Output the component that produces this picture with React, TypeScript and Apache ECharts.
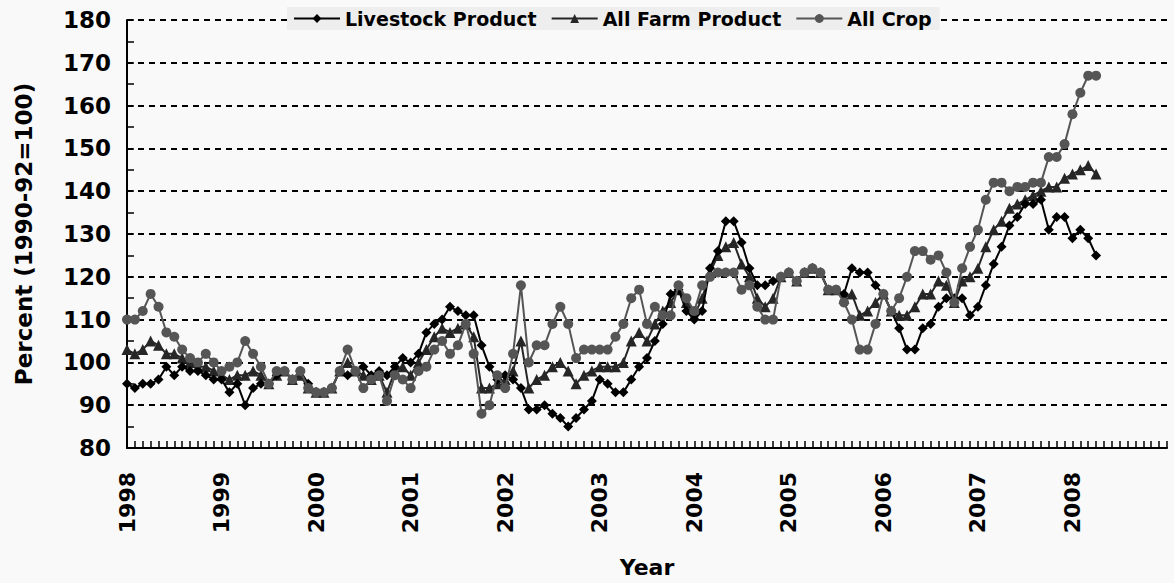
import React, { useEffect, useRef } from "react";
import * as echarts from "echarts";

const years = ["1998", "1999", "2000", "2001", "2002", "2003", "2004", "2005", "2006", "2007", "2008"];
const seriesNames = ["Livestock Product", "All Farm Product", "All Crop"];

// Monthly values, Jan 1998 .. Apr 2008
const livestock = [
  95, 94, 95, 95, 96, 99, 97, 99, 98, 98, 97, 96,
  96, 93, 95, 90, 94, 95, 95, 97, 98, 96, 98, 95,
  93, 93, 94, 98, 97, 98, 99, 97, 98, 97, 99, 101,
  100, 102, 107, 109, 110, 113, 112, 111, 111, 104, 99, 96,
  97, 96, 94, 89, 89, 90, 88, 87, 85, 87, 89, 91,
  96, 95, 93, 93, 96, 99, 101, 105, 109, 116, 117, 112,
  110, 112, 122, 126, 133, 133, 128, 122, 118, 118, 119, 120,
  121, 119, 121, 122, 121, 117, 117, 116, 122, 121, 121, 118,
  116, 112, 108, 103, 103, 108, 109, 113, 115, 115, 115, 111,
  113, 118, 123, 127, 132, 134, 137, 137, 138, 131, 134, 134,
  129, 131, 129, 125,
];

const allFarm = [
  103, 102, 103, 105, 104, 102, 102, 101, 100, 99, 99, 98,
  97, 96, 97, 97, 98, 97, 95, 97, 98, 96, 97, 94,
  93, 93, 94, 98, 100, 98, 97, 96, 97, 93, 98, 99,
  97, 100, 103, 106, 108, 107, 108, 109, 106, 94, 94, 95,
  96, 98, 105, 94, 96, 97, 99, 100, 98, 95, 97, 98,
  99, 99, 99, 100, 105, 107, 105, 109, 112, 114, 117, 114,
  111, 115, 121, 125, 127, 128, 123, 120, 115, 113, 115, 120,
  121, 119, 121, 122, 121, 117, 117, 115, 116, 111, 112, 114,
  116, 112, 111, 111, 113, 116, 116, 119, 118, 114, 119, 120,
  122, 127, 131, 133, 136, 137, 138, 139, 140, 141, 141, 143,
  144, 145, 146, 144,
];

const allCrop = [
  110, 110, 112, 116, 113, 107, 106, 103, 101, 100, 102, 100,
  98, 99, 100, 105, 102, 99, 95, 98, 98, 96, 98, 94,
  93, 93, 94, 98, 103, 98, 94, 96, 97, 91, 97, 96,
  94, 98, 99, 103, 105, 102, 104, 109, 102, 88, 90, 97,
  94, 102, 118, 100, 104, 104, 109, 113, 109, 101, 103, 103,
  103, 103, 106, 109, 115, 117, 109, 113, 111, 111, 118, 115,
  112, 118, 120, 121, 121, 121, 117, 118, 113, 110, 110, 120,
  121, 119, 121, 122, 121, 117, 117, 114, 110, 103, 103, 109,
  116, 112, 115, 120, 126, 126, 124, 125, 121, 114, 122, 127,
  131, 138, 142, 142, 140, 141, 141, 142, 142, 148, 148, 151,
  158, 163, 167, 167,
];

const FONT = "DejaVu Sans";

export default function App() {
  const ref = useRef<HTMLDivElement>(null);

  useEffect(() => {
    if (!ref.current) return;
    const chart = echarts.init(ref.current, undefined, { renderer: "svg" });
    const toPairs = (arr: number[]) => arr.map((v, i) => [i, v]);
    const makeSeries = (name: string, data: number[], color: string, symbol: string, size: number, z: number) => ({
      name,
      type: "line",
      data: toPairs(data),
      symbol,
      symbolSize: size,
      showSymbol: true,
      z,
      lineStyle: { color, width: 2 },
      itemStyle: { color, borderWidth: 0 },
      emphasis: { disabled: true },
    });

    chart.setOption({
      animation: false,
      backgroundColor: "#f9f9f9",
      textStyle: { fontFamily: FONT },
      grid: { left: 127, right: 7, top: 20, bottom: 134, containLabel: false },
      legend: {
        data: seriesNames,
        left: 287,
        top: 7,
        itemWidth: 46,
        itemHeight: 11,
        itemGap: 14,
        padding: [2, 8, 2, 6],
        backgroundColor: "#eeeeee",
        textStyle: { fontFamily: FONT, fontSize: 19, fontWeight: "bold", color: "#000" },
      },
      xAxis: {
        type: "value",
        min: 0,
        max: 132,
        interval: 12,
        name: "Year",
        nameLocation: "middle",
        nameGap: 108,
        nameTextStyle: { fontFamily: FONT, fontSize: 22, fontWeight: "bold", color: "#000" },
        axisLine: { show: true, onZero: false, lineStyle: { color: "#000", width: 2 } },
        axisTick: { show: true, inside: true, length: 7, lineStyle: { color: "#000", width: 1.5 } },
        minorTick: { show: true, splitNumber: 12, length: 7, lineStyle: { color: "#000", width: 1.5 } },
        splitLine: { show: false },
        minorSplitLine: { show: false },
        axisLabel: {
          rotate: 90,
          margin: 24,
          fontFamily: FONT,
          fontSize: 22,
          fontWeight: "bold",
          color: "#000",
          formatter: (v: number) => {
            const k = Math.round(v / 12);
            return k < years.length ? years[k] : "";
          },
        },
      },
      yAxis: {
        type: "value",
        min: 80,
        max: 180,
        interval: 10,
        name: "Percent (1990-92=100)",
        nameLocation: "middle",
        nameGap: 92,
        nameTextStyle: { fontFamily: FONT, fontSize: 23, fontWeight: "bold", color: "#000" },
        axisLine: { show: true, lineStyle: { color: "#000", width: 2 } },
        axisTick: { show: true, inside: true, length: 7, lineStyle: { color: "#000", width: 1.5 } },
        minorTick: { show: true, splitNumber: 2, length: 7, lineStyle: { color: "#000", width: 1.5 } },
        splitLine: { show: true, lineStyle: { color: "#000", width: 2, type: [6, 5] } },
        axisLabel: {
          margin: 16,
          fontFamily: FONT,
          fontSize: 23,
          fontWeight: "bold",
          color: "#000",
        },
      },
      series: [
        makeSeries(seriesNames[1], allFarm, "#262626", "triangle", 11, 2),
        makeSeries(seriesNames[0], livestock, "#000000", "diamond", 10, 3),
        makeSeries(seriesNames[2], allCrop, "#555555", "circle", 10, 4),
      ],
    });
    return () => chart.dispose();
  }, []);

  return (
    <div
      ref={ref}
      style={{ position: "fixed", left: 0, top: 0, width: 1174, height: 583 }}
    />
  );
}
